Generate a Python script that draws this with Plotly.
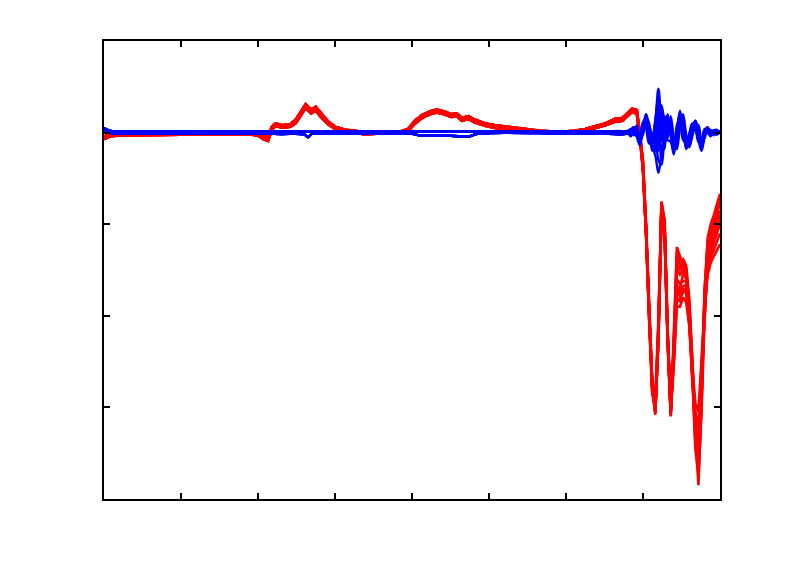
import plotly.graph_objects as go

# ---- shared left-part x grid (data units) ----
left_x = [0, 0.08, 0.2, 0.6, 1.25, 1.9, 2.0, 2.07, 2.13, 2.18, 2.23, 2.31, 2.42, 2.49, 2.56,
          2.62, 2.69, 2.75, 2.82, 2.91, 3.01, 3.13, 3.26, 3.39, 3.58, 3.84, 3.95, 4.04, 4.13,
          4.23, 4.32, 4.42, 4.51, 4.58, 4.65, 4.73, 4.82, 4.95, 5.08, 5.27, 5.47, 5.66, 5.92,
          6.12, 6.25, 6.38, 6.51, 6.64, 6.73, 6.81, 6.86]

red_left_a = [-0.04, -0.02, -0.01, -0.01, -0.01, -0.01, -0.01, -0.04, -0.05, 0.06, 0.10, 0.08,
              0.09, 0.14, 0.23, 0.31, 0.25, 0.28, 0.21, 0.12, 0.06, 0.03, 0.02, 0.0, 0.01, 0.01,
              0.04, 0.13, 0.19, 0.23, 0.25, 0.23, 0.20, 0.21, 0.16, 0.18, 0.14, 0.10, 0.08, 0.06,
              0.04, 0.02, 0.01, 0.02, 0.04, 0.07, 0.10, 0.15, 0.16, 0.22, 0.26]
red_left_b = [-0.07, -0.04, -0.03, -0.025, -0.02, -0.02, -0.03, -0.07, -0.09, 0.03, 0.075, 0.055,
              0.065, 0.105, 0.19, 0.27, 0.21, 0.24, 0.17, 0.09, 0.035, 0.01, 0.0, -0.02, -0.01,
              -0.005, 0.02, 0.10, 0.16, 0.20, 0.22, 0.20, 0.17, 0.18, 0.13, 0.15, 0.11, 0.075,
              0.05, 0.03, 0.02, 0.0, -0.005, 0.0, 0.02, 0.05, 0.08, 0.12, 0.13, 0.19, 0.23]

blue_left_x = [0, 0.1, 0.4, 2.0, 2.3, 2.6, 2.65, 2.7, 3.0, 4.0, 4.1, 4.5, 4.75, 4.85, 6.0, 6.5, 6.76]
blue_left_a = [0.05, 0.015, 0.012, 0.012, 0.015, 0.015, 0.012, 0.015, 0.012, 0.012, 0.012, 0.012,
               0.012, 0.012, 0.012, 0.012, 0.012]
blue_left_b = [0.02, -0.008, -0.012, -0.01, -0.015, -0.02, -0.05, -0.015, -0.01, -0.012, -0.03,
               -0.035, -0.04, -0.012, -0.01, -0.01, -0.015]

# ---- right-part x grids ----
right_x = [6.92, 6.96, 7.00, 7.04, 7.08, 7.12, 7.16, 7.20, 7.24, 7.28, 7.32, 7.36, 7.40, 7.44,
           7.48, 7.52, 7.56, 7.60, 7.64, 7.68, 7.72, 7.76, 7.80, 7.84, 7.88, 7.92, 7.96, 8.00]
blue_right_x = [6.80, 6.84, 6.88] + right_x

red_right = [
    [0.24, -0.02, -0.35, -1.05, -1.95, -2.80, -3.08, -2.20, -0.75, -1.00, -2.25, -3.10, -2.30, -1.25,
     -1.35, -1.42, -1.50, -1.90, -2.55, -3.35, -3.85, -2.95, -1.75, -1.15, -1.00, -0.90, -0.78, -0.67],
    [0.22, -0.05, -0.40, -1.10, -2.00, -2.75, -3.05, -2.25, -0.80, -1.05, -2.20, -3.05, -2.40, -1.50,
     -1.55, -1.50, -1.60, -2.00, -2.60, -3.30, -3.60, -2.90, -1.85, -1.25, -1.10, -0.98, -0.86, -0.75],
    [0.25, 0.00, -0.30, -1.00, -1.90, -2.70, -2.98, -2.10, -0.78, -0.98, -2.15, -3.00, -2.50, -1.75,
     -1.70, -1.55, -1.55, -1.85, -2.50, -3.20, -3.45, -2.75, -1.80, -1.30, -1.15, -1.05, -0.95, -0.85],
    [0.20, -0.06, -0.42, -1.12, -2.05, -2.85, -3.00, -2.30, -0.88, -1.10, -2.30, -3.08, -2.45, -1.65,
     -1.80, -1.75, -1.70, -2.05, -2.70, -3.10, -3.30, -2.60, -1.95, -1.45, -1.30, -1.20, -1.10, -1.00],
    [0.23, -0.03, -0.38, -1.08, -1.98, -2.78, -2.90, -2.05, -0.82, -1.02, -2.20, -2.95, -2.35, -1.45,
     -1.50, -1.45, -1.50, -1.95, -2.65, -3.40, -3.70, -3.05, -2.00, -1.40, -1.25, -1.12, -1.02, -0.92],
    [0.21, -0.04, -0.36, -1.06, -1.96, -2.72, -2.95, -2.15, -0.90, -1.12, -2.25, -3.00, -2.55, -1.90,
     -1.90, -1.80, -1.85, -2.10, -2.55, -2.95, -3.05, -2.50, -1.90, -1.55, -1.42, -1.35, -1.28, -1.22],
    [0.24, -0.01, -0.33, -1.03, -1.92, -2.76, -3.05, -2.18, -0.76, -0.95, -2.18, -3.06, -2.20, -1.30,
     -1.40, -1.38, -1.45, -1.80, -2.45, -3.25, -3.55, -2.80, -1.70, -1.20, -1.05, -0.95, -0.85, -0.72],
    [0.22, -0.05, -0.40, -1.10, -2.02, -2.82, -3.02, -2.25, -0.85, -1.06, -2.28, -3.04, -2.40, -1.60,
     -1.65, -1.62, -1.62, -2.00, -2.60, -3.15, -3.40, -2.70, -1.90, -1.35, -1.20, -1.10, -1.00, -0.90],
    [0.23, -0.02, -0.37, -1.07, -1.97, -2.78, -3.06, -2.22, -0.78, -1.02, -2.22, -3.08, -2.35, -1.35,
     -1.45, -1.48, -1.55, -1.95, -2.62, -3.45, -3.75, -2.98, -1.85, -1.25, -1.08, -0.96, -0.84, -0.72],
    [0.21, -0.04, -0.39, -1.09, -1.99, -2.74, -2.96, -2.12, -0.84, -1.08, -2.24, -3.02, -2.48, -1.80,
     -1.85, -1.70, -1.75, -2.08, -2.68, -3.05, -3.20, -2.55, -1.92, -1.50, -1.36, -1.28, -1.18, -1.10],
    [0.24, -0.01, -0.34, -1.04, -1.94, -2.77, -3.04, -2.16, -0.77, -0.97, -2.17, -3.05, -2.28, -1.40,
     -1.45, -1.40, -1.48, -1.88, -2.58, -3.30, -3.65, -2.88, -1.78, -1.22, -1.08, -0.98, -0.88, -0.78],
    [0.20, -0.05, -0.41, -1.11, -2.03, -2.83, -2.99, -2.28, -0.86, -1.09, -2.27, -3.06, -2.42, -1.70,
     -1.75, -1.68, -1.66, -2.02, -2.62, -3.12, -3.35, -2.65, -1.92, -1.40, -1.25, -1.15, -1.05, -0.95],
]

blue_right = [
    [0.0, 0.02, 0.06, -0.04, -0.10, 0.05, 0.20, 0.02, -0.12, 0.10, 0.48, 0.08, -0.18, 0.16, 0.10, -0.22,
     -0.02, 0.24, 0.04, -0.16, -0.06, 0.06, 0.13, -0.04, -0.18, 0.0, 0.04, -0.02, 0.03, 0.0, 0.02],
    [0.01, -0.03, 0.04, 0.06, -0.12, 0.08, 0.14, -0.06, -0.16, -0.25, -0.44, -0.22, 0.04, 0.20, -0.04,
     -0.24, 0.02, 0.20, 0.10, -0.18, -0.10, 0.04, 0.10, -0.08, -0.20, -0.05, 0.03, 0.01, -0.02, 0.02, -0.01],
    [0.0, 0.03, -0.02, 0.05, -0.06, 0.08, 0.12, -0.08, -0.05, 0.12, 0.30, 0.0, -0.10, 0.12, 0.02, -0.15,
     -0.08, 0.15, 0.08, -0.10, -0.12, 0.04, 0.10, 0.0, -0.12, -0.02, 0.05, -0.03, 0.02, -0.02, 0.01],
    [0.01, -0.02, 0.05, -0.02, -0.08, 0.0, 0.20, 0.05, -0.20, -0.10, 0.15, -0.30, -0.05, 0.10, 0.08,
     -0.12, -0.10, 0.10, 0.12, -0.05, -0.15, 0.0, 0.13, 0.03, -0.18, -0.03, 0.02, 0.03, -0.03, 0.01, 0.0],
    [-0.01, 0.02, 0.03, 0.02, -0.03, 0.06, 0.10, 0.02, -0.08, 0.05, 0.38, 0.20, -0.12, 0.05, 0.12, -0.08,
     -0.12, 0.18, 0.0, -0.12, -0.02, 0.10, 0.06, -0.10, -0.08, 0.04, 0.0, -0.04, 0.02, 0.03, 0.0],
    [0.0, -0.04, 0.02, 0.0, -0.06, 0.12, 0.05, -0.12, -0.10, -0.05, -0.30, -0.35, 0.0, 0.15, -0.02, -0.18,
     0.05, 0.12, -0.05, -0.12, -0.08, 0.06, 0.08, -0.02, -0.14, 0.0, 0.05, 0.0, -0.01, -0.02, 0.02],
    [0.02, 0.0, 0.04, 0.01, -0.04, 0.03, 0.08, 0.0, -0.06, 0.08, 0.22, 0.05, -0.05, 0.08, 0.03, -0.10,
     -0.03, 0.10, 0.03, -0.08, -0.04, 0.03, 0.06, -0.03, -0.08, 0.0, 0.02, -0.01, 0.01, 0.0, 0.01],
    [0.0, -0.02, 0.05, -0.02, -0.10, 0.04, 0.14, -0.02, -0.12, 0.02, -0.15, 0.25, -0.08, 0.14, 0.10, -0.16,
     -0.06, 0.14, 0.02, -0.14, -0.06, 0.07, 0.11, -0.06, -0.16, -0.01, 0.04, -0.02, 0.02, 0.01, -0.01],
    [0.01, 0.04, -0.03, 0.08, -0.08, -0.02, 0.16, 0.10, -0.14, -0.20, 0.05, 0.30, 0.10, -0.06, 0.18, -0.06,
     -0.18, 0.06, 0.20, -0.02, -0.16, -0.04, 0.08, 0.08, -0.12, -0.06, 0.03, 0.02, -0.01, 0.02, 0.0],
    [-0.01, 0.01, 0.02, -0.05, -0.14, 0.02, 0.08, 0.06, -0.04, -0.14, -0.20, 0.12, 0.18, -0.08, -0.10,
     -0.20, 0.08, 0.16, -0.08, -0.10, -0.02, 0.08, 0.02, -0.06, -0.12, 0.02, 0.06, -0.02, -0.02, 0.01, 0.01],
    [0.0, 0.03, 0.06, 0.02, -0.07, 0.10, 0.18, -0.04, -0.08, 0.14, 0.40, -0.05, -0.14, 0.18, 0.06, -0.20,
     0.0, 0.22, 0.06, -0.14, -0.08, 0.05, 0.12, -0.02, -0.16, -0.02, 0.03, -0.01, 0.02, -0.01, 0.01],
    [0.01, -0.01, 0.03, 0.04, -0.05, 0.05, 0.06, -0.10, -0.14, -0.18, -0.12, -0.15, -0.10, 0.06, 0.05,
     -0.12, -0.05, 0.08, 0.06, -0.10, -0.05, 0.03, 0.05, -0.05, -0.10, -0.02, 0.02, 0.01, -0.01, 0.01, 0.0],
]

x_ticks = [0, 1, 2, 3, 4, 5, 6, 7, 8]
y_ticks = [-4, -3, -2, -1, 0, 1]

fig = go.Figure()
for i, r in enumerate(red_right):
    base = red_left_a if i % 2 == 0 else red_left_b
    fig.add_trace(go.Scatter(x=left_x + right_x, y=base + r, mode="lines",
                             line=dict(color="#ff0000", width=2.6), showlegend=False))
for i, b in enumerate(blue_right):
    base = blue_left_a if i % 2 == 0 else blue_left_b
    fig.add_trace(go.Scatter(x=blue_left_x + blue_right_x, y=base + b, mode="lines",
                             line=dict(color="#0000ff", width=2.4, shape="spline", smoothing=1.0),
                             showlegend=False))

axis_common = dict(showline=True, linecolor="black", linewidth=2, mirror="ticks",
                   ticks="inside", ticklen=6, tickwidth=1.5, tickcolor="black",
                   showticklabels=False, showgrid=False, zeroline=False)
fig.update_xaxes(range=[0, 8], tickvals=x_ticks, **axis_common)
fig.update_yaxes(range=[-4, 1], tickvals=y_ticks, **axis_common)
fig.update_layout(width=792, height=556, plot_bgcolor="white", paper_bgcolor="white",
                  margin=dict(l=96, r=80, t=33, b=65), showlegend=False)
fig.write_html("out.html")
